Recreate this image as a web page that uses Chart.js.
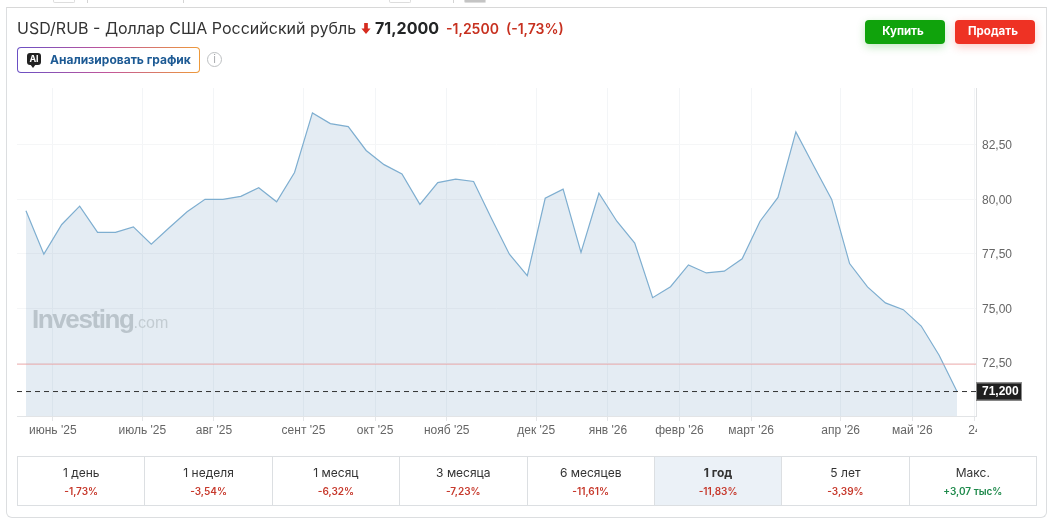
<!DOCTYPE html>
<html lang="ru">
<head>
<meta charset="utf-8">
<title>USD/RUB</title>
<script src="https://cdn.jsdelivr.net/npm/chart.js@4"></script>
<style>
    html, body { margin: 0; padding: 0; background: #fff; }
    body { position: relative; width: 1054px; height: 524px; overflow: hidden; font-family: Inter, "Noto Sans", sans-serif; color: #333; }
    .abs { position: absolute; white-space: nowrap; }
    #card { left: 6px; top: 7px; width: 1039px; height: 509px; border: 1px solid #dcdee0; border-top-color: #d8d8d8; border-radius: 0 0 6px 6px; box-sizing: content-box; }
    #chart { position: absolute; left: 0; top: 0; }
    #title { left: 17px; top: 18px; font-size: 16px; line-height: 20px; color: #333; }
    #arrow { left: 361px; top: 23px; width: 10px; height: 11px; }
    #price { left: 375px; top: 17px; font-size: 16px; line-height: 22px; font-weight: 700; color: #232526; }
    #change { left: 446px; top: 19px; font-size: 14px; line-height: 20px; font-weight: 600; color: #c7301f; }
    #ai { left: 17px; top: 47px; width: 183px; height: 26px; padding: 1px; box-sizing: border-box; border-radius: 4px; background: linear-gradient(90deg, #6a4fc4, #c2569a 50%, #ee9a3a); }
    #ai div { width: 100%; height: 100%; background: #fff; border-radius: 3px; }
    #aiIcon { left: 27px; top: 53px; width: 14px; height: 12px; background: #222; border-radius: 3px; color: #fff; font-size: 9px; line-height: 12px; font-weight: 700; text-align: center; }
    #aiTail { left: 30px; top: 64px; width: 0; height: 0; border-left: 3px solid transparent; border-right: 3px solid transparent; border-top: 4px solid #222; }
    #aiText { left: 50px; top: 52px; font-size: 12px; line-height: 16px; font-weight: 700; color: #1d5a94; }
    #info { left: 207px; top: 52px; width: 15px; height: 15px; box-sizing: border-box; border: 1px solid #bcbfc1; border-radius: 50%; color: #a8abae; font-size: 11px; line-height: 13px; text-align: center; }
    .btn { top: 20px; width: 80px; height: 24px; padding-right: 4px; box-sizing: border-box; border-radius: 4px; color: #fff; font-size: 11.5px; line-height: 23px; font-weight: 700; text-align: center; }
    #buy { left: 865px; background: #10a30c; box-shadow: 0 3px 8px rgba(16,163,12,.25); }
    #sell { left: 955px; background: #ee3224; box-shadow: 0 3px 8px rgba(238,50,36,.25); }
    #wm { left: 32px; top: 304px; font-family: "Liberation Sans", Arial, sans-serif; font-size: 26px; line-height: 30px; font-weight: 700; letter-spacing: -1.4px; color: #bac4cb; }
    #wm span { font-size: 16px; font-weight: 400; letter-spacing: 0; color: #c3ccd2; }
    #tickMask { left: 977px; top: 420px; width: 8px; height: 16px; background: #fff; }
    #periods { left: 17px; top: 456px; width: 1020px; height: 50px; display: flex; box-sizing: border-box; border: 1px solid #dcdfe2; }
    .period { flex: 1; border-left: 1px solid #dcdfe2; text-align: center; padding-top: 8px; box-sizing: border-box; }
    .period:first-child { border-left: 0; }
    .period .name { font-size: 12px; line-height: 16px; color: #333; }
    .period .pct { font-size: 10px; line-height: 14px; margin-top: 3px; font-weight: 600; color: #c7392c; }
    .period .pct.up { color: #1f8a4c; }
    .period.active { background: #ebf1f7; }
    .period.active .name { font-weight: 700; }
    .stub { top: 0; width: 20px; height: 2px; border: 1px solid #ddd; border-top: 0; border-radius: 0 0 2px 2px; }
    .sep { top: 0; width: 1px; height: 3px; background: #d4d4d4; }
</style>
</head>
<body>
<div class="abs stub" style="left:53px"></div>
<div class="abs sep" style="left:87px"></div>
<div class="abs sep" style="left:183px"></div>
<div class="abs stub" style="left:389px"></div>
<div class="abs sep" style="left:453px"></div>
<div class="abs stub" style="left:464px;background:#c4c4c4"></div>
<div class="abs" id="card"></div>
<canvas id="chart" width="1054" height="524"></canvas>
<div class="abs" id="title">USD/RUB - Доллар США Российский рубль</div>
<svg class="abs" id="arrow" viewBox="0 0 10 12"><path d="M3 0h4v6h3l-5 6-5-6h3z" fill="#d62c1f"/></svg>
<div class="abs" id="price">71,2000</div>
<div class="abs" id="change">-1,2500&nbsp; (-1,73%)</div>
<div class="abs" id="ai"><div></div></div>
<div class="abs" id="aiIcon">AI</div>
<div class="abs" id="aiTail"></div>
<div class="abs" id="aiText">Анализировать график</div>
<div class="abs" id="info">i</div>
<div class="abs btn" id="buy">Купить</div>
<div class="abs btn" id="sell">Продать</div>
<div class="abs" id="wm">Investing<span>.com</span></div>
<div class="abs" id="tickMask"></div>
<div class="abs" id="periods"></div>

<script>
// недельные значения USD/RUB за год
const weeklyClose = [
    79.48, 77.49, 78.85, 79.69, 78.49, 78.49, 78.74, 77.95, 78.70, 79.43,
    80.00, 80.00, 80.14, 80.53, 79.89, 81.23, 83.96, 83.47, 83.33, 82.24,
    81.59, 81.16, 79.77, 80.77, 80.93, 80.82, 79.12, 77.49, 76.51, 80.05,
    80.47, 77.57, 80.28, 79.00, 78.00, 75.50, 76.00, 77.00, 76.63, 76.71,
    77.28, 79.00, 80.09, 83.09, 81.53, 80.00, 77.06, 75.99, 75.26, 74.95,
    74.20, 72.86, 71.20
];
const monthLabels = ["июнь '25", "июль '25", "авг '25", "сент '25", "окт '25", "нояб '25", "дек '25", "янв '26", "февр '26", "март '26", "апр '26", "май '26", "24"];
const monthWeeks = [1.5, 6.5, 10.5, 15.5, 19.5, 23.5, 28.5, 32.5, 36.5, 40.5, 45.5, 49.5, 53];
const priceTicks = [72.5, 75, 77.5, 80, 82.5];
const prevClose = 72.45;
const lastPrice = 71.2;
const periodNames = ['1 день', '1 неделя', '1 месяц', '3 месяца', '6 месяцев', '1 год', '5 лет', 'Макс.'];
const periodChanges = ['-1,73%', '-3,54%', '-6,32%', '-7,23%', '-11,61%', '-11,83%', '-3,39%', '+3,07 тыс%'];
const activePeriod = 5;

const weekMin = -0.5;
const weekMax = 53.06;

// таблица доходности за периоды
const periods = document.getElementById('periods');
periodNames.forEach((name, i) => {
    const cell = document.createElement('div');
    cell.className = 'period' + (i === activePeriod ? ' active' : '');
    const up = periodChanges[i].startsWith('+');
    cell.innerHTML = `<div class="name">${name}</div><div class="pct${up ? ' up' : ''}">${periodChanges[i]}</div>`;
    periods.appendChild(cell);
});

function flatLine(value) {
    return [{ x: weekMin, y: value }, { x: weekMax, y: value }];
}

// плашка с последней ценой на оси
const lastPriceTag = {
    id: 'lastPriceTag',
    afterDraw(chart) {
        const { ctx, scales } = chart;
        const y = scales.y.getPixelForValue(lastPrice);
        const left = chart.chartArea.right;
        ctx.save();
        ctx.fillStyle = '#1f1f1f';
        ctx.fillRect(left, y - 9, 46, 18);
        ctx.strokeStyle = '#8a8a8a';
        ctx.lineWidth = 1;
        ctx.strokeRect(left + 0.5, y - 8.5, 45, 17);
        ctx.fillStyle = '#fff';
        ctx.font = 'bold 12px "Liberation Sans", Arial, sans-serif';
        ctx.textBaseline = 'middle';
        ctx.fillText(lastPrice.toFixed(3).replace('.', ','), left + 6, y + 0.5);
        ctx.restore();
    }
};

new Chart(document.getElementById('chart'), {
    type: 'line',
    data: {
        datasets: [
            {
                // предыдущее закрытие
                data: flatLine(prevClose),
                borderColor: 'rgba(236,150,150,0.5)',
                borderWidth: 1.5,
                pointRadius: 0,
                fill: false
            },
            {
                data: flatLine(lastPrice),
                borderColor: '#333',
                borderWidth: 1,
                borderDash: [5, 4],
                pointRadius: 0,
                fill: false
            },
            {
                data: weeklyClose.map((v, i) => ({ x: i, y: v })),
                borderColor: '#7eaed0',
                borderWidth: 1.2,
                backgroundColor: 'rgba(120,160,195,0.2)',
                pointRadius: 0,
                tension: 0,
                fill: 'start'
            }
        ]
    },
    options: {
        responsive: false,
        animation: false,
        layout: { padding: { left: 17, top: 88, right: 18, bottom: 83 } },
        plugins: { legend: { display: false }, tooltip: { enabled: false } },
        scales: {
            x: {
                type: 'linear',
                min: weekMin,
                max: weekMax,
                afterBuildTicks(scale) {
                    scale.ticks = monthWeeks.map(value => ({ value }));
                },
                afterFit(scale) { scale.height = 25; },
                grid: { color: '#f3f5f7', tickLength: 5, tickColor: '#e4e6e8' },
                border: { color: '#e2e4e6' },
                ticks: {
                    autoSkip: false,
                    maxRotation: 0,
                    padding: 2,
                    color: '#666',
                    font: { family: '"Liberation Sans", Arial, sans-serif', size: 12 },
                    callback: (value, index) => monthLabels[index]
                }
            },
            y: {
                position: 'right',
                min: 70.08,
                max: 85.1,
                afterBuildTicks(scale) {
                    scale.ticks = priceTicks.map(value => ({ value }));
                },
                afterFit(scale) { scale.width = 60; },
                grid: { color: '#f5f6f7', drawTicks: false },
                border: { color: '#e0e2e4' },
                ticks: {
                    padding: 6,
                    labelOffset: 1,
                    color: '#666',
                    font: { family: '"Liberation Sans", Arial, sans-serif', size: 12 },
                    callback: value => value.toFixed(2).replace('.', ',')
                }
            }
        }
    },
    plugins: [lastPriceTag]
});
</script>
</body>
</html>
